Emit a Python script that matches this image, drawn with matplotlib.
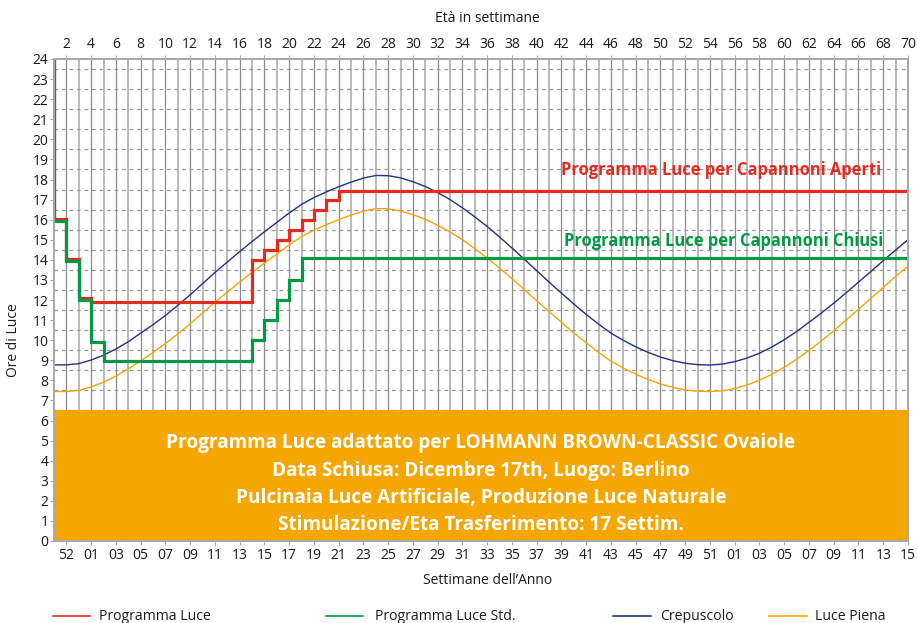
import matplotlib

matplotlib.use("Agg")
import matplotlib.pyplot as plt
from matplotlib.lines import Line2D

# --- data -----------------------------------------------------------------
WEEKS = list(range(1, 71))
# Crepuscolo (twilight) hours per week of age
TWILIGHT = [8.77, 8.77, 8.83, 9.01, 9.25, 9.56, 9.92, 10.35, 10.77, 11.23,
            11.73, 12.26, 12.81, 13.37, 13.89, 14.41, 14.91, 15.40, 15.86, 16.33,
            16.76, 17.10, 17.38, 17.64, 17.87, 18.07, 18.20, 18.19, 18.08, 17.89,
            17.65, 17.35, 17.00, 16.59, 16.14, 15.66, 15.14, 14.59, 14.03, 13.46,
            12.89, 12.34, 11.80, 11.28, 10.80, 10.35, 9.99, 9.67, 9.39, 9.16,
            8.98, 8.85, 8.78, 8.76, 8.81, 8.93, 9.11, 9.35, 9.66, 10.02,
            10.43, 10.89, 11.35, 11.84, 12.36, 12.89, 13.42, 13.96, 14.49, 15.00]
# Luce Piena (full daylight)
DAYLIGHT = [7.45, 7.44, 7.50, 7.67, 7.91, 8.21, 8.57, 8.97, 9.38, 9.83,
            10.31, 10.82, 11.35, 11.89, 12.39, 12.89, 13.37, 13.84, 14.28, 14.74,
            15.16, 15.48, 15.75, 16.00, 16.23, 16.42, 16.55, 16.54, 16.43, 16.25,
            16.02, 15.72, 15.39, 15.00, 14.56, 14.09, 13.59, 13.07, 12.52, 11.97,
            11.43, 10.89, 10.36, 9.87, 9.39, 8.96, 8.61, 8.31, 8.04, 7.82,
            7.65, 7.52, 7.46, 7.44, 7.48, 7.59, 7.77, 8.01, 8.30, 8.65,
            9.05, 9.49, 9.96, 10.47, 11.00, 11.54, 12.08, 12.63, 13.17, 13.69]

# light programme for open houses (step changes, week of age)
OPEN_X = [1, 1, 2, 3, 4, 17, 18, 19, 20, 21, 22, 23, 24, 70]
OPEN_Y = [24, 16.05, 14.05, 12.1, 11.9, 14, 14.5, 15, 15.5, 16, 16.5, 17, 17.45, 17.45]
# standard programme for closed houses
CLOSED_X = [1, 1, 2, 3, 4, 5, 17, 18, 19, 20, 21, 70]
CLOSED_Y = [24, 15.95, 13.95, 12.0, 9.9, 8.95, 10, 11, 12, 13, 14.08, 14.08]

AGE_TICKS = list(range(2, 71, 2))
YEAR_WEEK_LABELS = ["52", "01", "03", "05", "07", "09", "11", "13", "15", "17",
                    "19", "21", "23", "25", "27", "29", "31", "33", "35", "37",
                    "39", "41", "43", "45", "47", "49", "51", "01", "03", "05",
                    "07", "09", "11", "13", "15"]

BOX_LINES = [
    "Programma Luce adattato per LOHMANN BROWN-CLASSIC Ovaiole",
    "Data Schiusa: Dicembre 17th, Luogo: Berlino",
    "Pulcinaia Luce Artificiale, Produzione Luce Naturale",
    "Stimulazione/Eta Trasferimento: 17 Settim.",
]
BOX_Y = [4.88, 3.50, 2.16, 0.80]

RED = "#e52b1f"
GREEN = "#009a44"
NAVY = "#25307f"
ORANGE = "#f7a500"
BOX = "#f5a600"
SPINE = "#a8a8a8"
INK = "#1a1a1a"

plt.rcParams.update({"font.family": ["Open Sans", "DejaVu Sans"]})

fig = plt.figure(figsize=(9.17, 6.23), dpi=100)
ax = fig.add_axes([54 / 917, 1 - 541 / 623, 854 / 917, 482 / 623])
ax.set_xlim(1, 70)
ax.set_ylim(0, 24)

# grid: solid week lines, dashed half-hour lines
for w in range(2, 70):
    if w % 2 == 0:
        ax.axvline(w, color="#8a8a8a", lw=0.9, zorder=1)
    else:
        ax.axvline(w, color="#bababa", lw=1.4, zorder=1)
for h in range(24):
    ax.axhline(h + 0.5, color="#999999", lw=0.9, ls=(0, (3, 3)), zorder=1)

ax.plot(WEEKS, TWILIGHT, color=NAVY, lw=1.0, zorder=3)
ax.plot(WEEKS, DAYLIGHT, color=ORANGE, lw=1.0, zorder=3)
ax.plot(OPEN_X, OPEN_Y, color=RED, lw=2.3, drawstyle="steps-post", zorder=4,
        solid_joinstyle="miter")
ax.plot(CLOSED_X, CLOSED_Y, color=GREEN, lw=2.3, drawstyle="steps-post", zorder=4,
        solid_joinstyle="miter")

ax.axhspan(0, 6.5, color=BOX, zorder=5, lw=0)
for line, y in zip(BOX_LINES, BOX_Y):
    ax.text(35.5, y, line, color="white", fontsize=13.7, fontweight="bold",
            ha="center", va="center", zorder=6)

ax.text(42.0, 18.47, "Programma Luce per Capannoni Aperti", color=RED,
        fontsize=11.9, fontweight="bold", ha="left", va="center", zorder=6)
ax.text(42.2, 14.95, "Programma Luce per Capannoni Chiusi", color=GREEN,
        fontsize=11.9, fontweight="bold", ha="left", va="center", zorder=6)

for s in ax.spines.values():
    s.set_color(SPINE)
    s.set_linewidth(1.4)
    s.set_zorder(7)

ax.set_yticks(range(0, 25))
ax.set_xticks(AGE_TICKS)
ax.set_xticklabels(YEAR_WEEK_LABELS)
ax.tick_params(axis="both", colors=SPINE, labelcolor=INK, labelsize=10,
               length=3, width=0.8, pad=2)
ax.tick_params(axis="y", pad=1)

top = ax.secondary_xaxis("top")
top.set_xticks(AGE_TICKS)
top.set_xticklabels([str(t) for t in AGE_TICKS])
top.tick_params(colors=SPINE, labelcolor=INK, labelsize=10, length=3,
                width=0.8, pad=2)
top.spines["top"].set_visible(False)

fig.text(487 / 917, 1 - 19 / 623, "Età in settimane", ha="center", va="center",
         fontsize=10, color=INK)
fig.text(488 / 917, 1 - 581 / 623, "Settimane dell’Anno", ha="center", va="center",
         fontsize=10, color=INK)
fig.text(14 / 917, 1 - 340 / 623, "Ore di Luce", ha="center", va="center",
         rotation=90, fontsize=10, color=INK)

# legend row, placed like the original (uneven spacing)
LEGEND = [("Programma Luce", RED, 53, 90, 99),
          ("Programma Luce Std.", GREEN, 326, 363, 375),
          ("Crepuscolo", NAVY, 613, 651, 660),
          ("Luce Piena", ORANGE, 769, 807, 815)]
ly = 1 - 616 / 623
for label, color, x0, x1, xt in LEGEND:
    fig.add_artist(Line2D([x0 / 917, x1 / 917], [ly, ly], color=color, lw=1.2,
                          transform=fig.transFigure))
    fig.text(xt / 917, ly, label, ha="left", va="center", fontsize=10.1,
             color=INK)

fig.savefig("out.png", dpi=100)
